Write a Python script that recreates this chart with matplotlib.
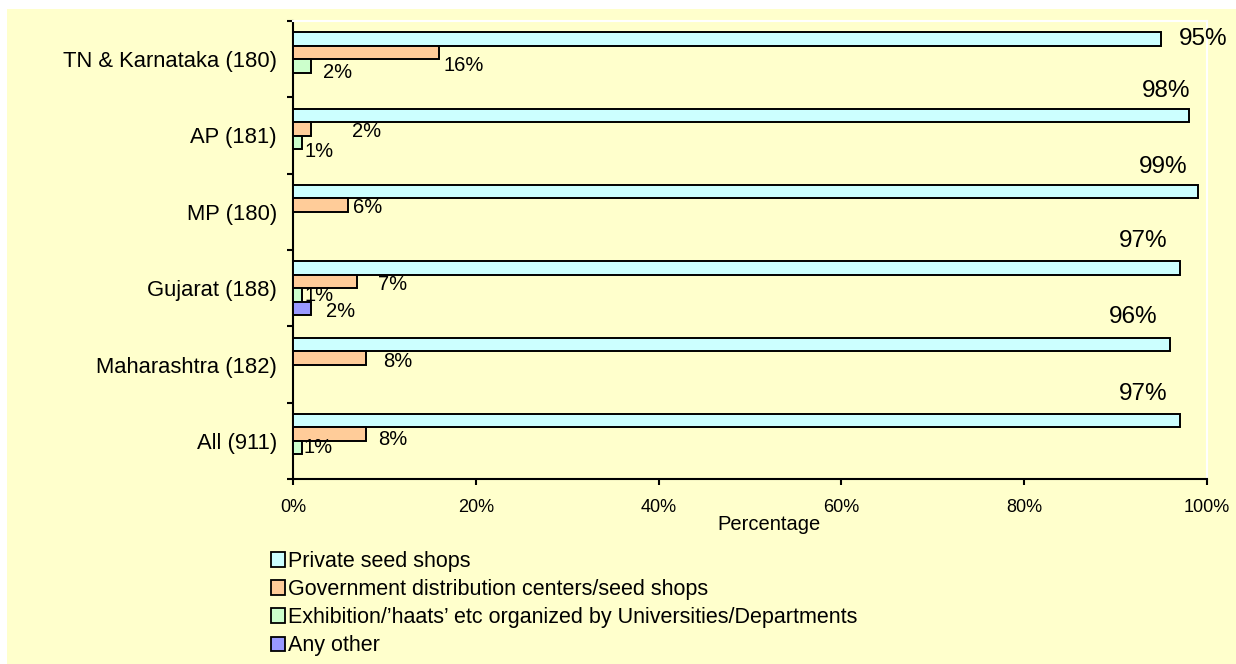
import matplotlib
matplotlib.use("Agg")
import matplotlib.pyplot as plt
import numpy as np
from matplotlib.patches import Rectangle, Patch

plt.rcParams['font.family'] = ['Liberation Sans', 'DejaVu Sans']

# categories from bottom to top
categories = ["All (911)", "Maharashtra (182)", "Gujarat (188)", "MP (180)", "AP (181)", "TN & Karnataka (180)"]
series_names = ["Private seed shops",
                "Government distribution centers/seed shops",
                "Exhibition/\u2019haats\u2019 etc organized by Universities/Departments",
                "Any other"]
private = [97, 96, 97, 99, 98, 95]
government = [8, 8, 7, 6, 2, 16]
exhibition = [1, 0, 1, 0, 1, 2]
any_other = [0, 0, 2, 0, 0, 0]
x_ticks = [0, 20, 40, 60, 80, 100]

colors = ["#CCFFFF", "#FFCC99", "#CCFFCC", "#9999FF"]
bg = "#FFFFCC"

# label nudges in screen pixels (dx right, dy down, ha), per series then per category (bottom to top)
label_offsets = [
    [(-12, -27, 'right'), (-13, -27, 'right'), (-12, -27, 'right'), (-10, -25, 'right'), (2, -24, 'right'), (18, 0, 'left')],
    [(12, 5, 'left'), (17, 4, 'left'), (21, 3, 'left'), (5, 2, 'left'), (41, 3, 'left'), (4, 13, 'left')],
    [(1, 0, 'left'), (0, 0, 'left'), (2, 1, 'left'), (0, 0, 'left'), (2, 9, 'left'), (12, 7, 'left')],
    [(0, 0, 'left'), (0, 0, 'left'), (15, 3, 'left'), (0, 0, 'left'), (0, 0, 'left'), (0, 0, 'left')],
]

W, H = 1236, 664
fig = plt.figure(figsize=(W / 100, H / 100), dpi=100)
fig.patch.set_facecolor("white")
fig.patches.append(Rectangle((7 / W, 0), 1 - 7 / W, 1 - 9 / H, transform=fig.transFigure,
                             facecolor=bg, edgecolor="none", zorder=-10))

ax = fig.add_axes([293 / W, 1 - 479 / H, (1207 - 293) / W, (479 - 21) / H])
ax.set_facecolor(bg)

all_series = [private, government, exhibition, any_other]
h = 0.175
y = np.arange(len(categories)) + 0.5
for j, vals in enumerate(all_series):
    ypos = y + (1.5 - j) * h
    ax.barh(ypos, vals, height=h, color=colors[j], edgecolor="black", linewidth=1.4, zorder=3)
    fs = 17.5 if j == 0 else 14.5
    for i, v in enumerate(vals):
        if v == 0:
            continue
        dx, dy, ha = label_offsets[j][i]
        ax.annotate(f"{v}%", (v, ypos[i]), xytext=(dx, -dy), textcoords="offset pixels",
                    ha=ha, va="center", fontsize=fs, color="black", zorder=4)

ax.set_xlim(0, 100)
ax.set_ylim(0, len(categories))
ax.set_xticks(x_ticks)
ax.set_xticklabels([f"{t}%" for t in x_ticks], fontsize=13)
ax.set_yticks(np.arange(len(categories) + 1))
ax.set_yticklabels([])
ax.set_yticks(y, minor=True)
ax.set_yticklabels(categories, minor=True, fontsize=15.8)
ax.tick_params(axis="y", which="minor", length=0, pad=11.5)
ax.tick_params(axis="y", which="major", length=4.5, width=1.5, direction="out")
ax.tick_params(axis="x", length=4.5, width=1.5, direction="out", pad=9.8)

for s in ["left", "bottom"]:
    ax.spines[s].set_linewidth(1.5)
    ax.spines[s].set_color("black")
for s in ["top", "right"]:
    ax.spines[s].set_linewidth(1.5)
    ax.spines[s].set_color("white")

ax.set_xlabel("Percentage", fontsize=14.5)
ax.xaxis.set_label_coords((769 - 293) / 914, (479 - 524) / 458)
ax.xaxis.label.set_va("center")

handles = [Patch(facecolor=c, edgecolor="black", linewidth=1.3) for c in colors]
fig.legend(handles, series_names, loc="upper left", bbox_to_anchor=(271 / W, 1 - 551 / H),
           frameon=False, fontsize=15.5, handlelength=0.65, handleheight=0.65,
           handletextpad=0.12, labelspacing=0.33, borderaxespad=0, borderpad=0)

fig.savefig("out.png", dpi=100, facecolor=fig.get_facecolor())
